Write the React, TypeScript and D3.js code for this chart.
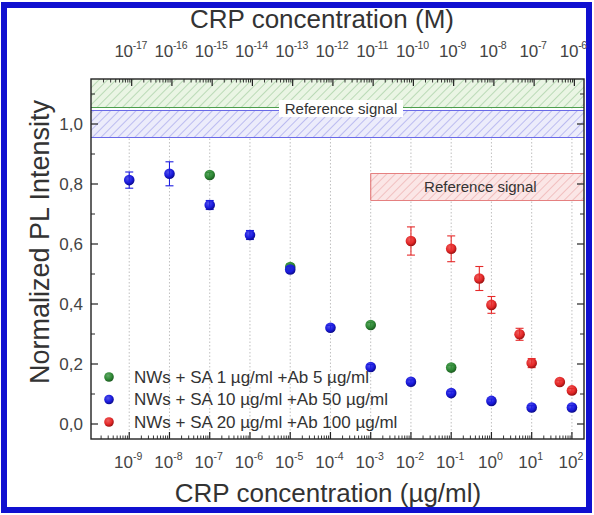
import React from "react";
import * as d3 from "d3";

const greenX = [1e-7, 1e-5, 1e-3, 1e-1];
const greenY = [0.83, 0.523, 0.33, 0.188];
const greenErr = [0.008, 0.01, 0.008, 0.008];

const blueX = [1e-9, 1e-8, 1e-7, 1e-6, 1e-5, 1e-4, 1e-3, 1e-2, 1e-1, 1, 10, 100];
const blueY = [0.813, 0.834, 0.73, 0.63, 0.515, 0.321, 0.19, 0.141, 0.103, 0.077, 0.055, 0.055];
const blueErr = [0.027, 0.04, 0.015, 0.015, 0.01, 0.008, 0.008, 0.006, 0.006, 0.006, 0.006, 0.006];

const redX = [1e-2, 1e-1, 0.5, 1, 5, 10, 50, 100];
const redY = [0.61, 0.584, 0.485, 0.397, 0.299, 0.203, 0.14, 0.112];
const redErr = [0.047, 0.043, 0.04, 0.028, 0.02, 0.015, 0.006, 0.006];

const bottomExps = [-9, -8, -7, -6, -5, -4, -3, -2, -1, 0, 1, 2];
const topExps = [-17, -16, -15, -14, -13, -12, -11, -10, -9, -8, -7, -6];
const yTicks = [0, 0.2, 0.4, 0.6, 0.8, 1.0];
const yMinor = [-0.1, 0.1, 0.3, 0.5, 0.7, 0.9, 1.1];

const greenBand = [1.055, 1.2];
const blueBand = [0.955, 1.045];
const redBand = [0.745, 0.835];
const redBandStart = 1e-3;

const legendLabels = [
  "NWs + SA 1 \u00b5g/ml +Ab 5 \u00b5g/ml",
  "NWs + SA 10 \u00b5g/ml +Ab 50 \u00b5g/ml",
  "NWs + SA 20 \u00b5g/ml +Ab 100 \u00b5g/ml",
];

const topTitle = "CRP concentration (M)";
const bottomTitle = "CRP concentration (\u00b5g/ml)";
const yTitle = "Normalized PL Intensity";
const refLabel = "Reference signal";

const MW_FACTOR = 1.15e8; // M -> ug/ml

const L = 91, R = 584, T = 79, B = 439;
const FONT = "Liberation Sans, Arial, sans-serif";

export default function App() {
  const x = d3.scaleLog().domain([Math.pow(10, -9.95), Math.pow(10, 2.3)]).range([L, R]);
  const y = d3.scaleLinear().domain([-0.05, 1.15]).range([B, T]);
  const xTop = (m: number) => x(m * MW_FACTOR);

  const [lo, hi] = x.domain();
  const minorBottom: number[] = [];
  for (let e = -10; e <= 2; e++) for (let k = 2; k <= 9; k++) {
    const v = k * Math.pow(10, e);
    if (v > lo && v < hi) minorBottom.push(v);
  }
  const minorTop: number[] = [];
  for (let e = -18; e <= -6; e++) for (let k = 2; k <= 9; k++) {
    const v = k * Math.pow(10, e);
    const px = xTop(v);
    if (px > L && px < R) minorTop.push(v);
  }

  const series = [
    { xs: greenX, ys: greenY, es: greenErr, color: "#2f8a36", dark: "#1c5a20" },
    { xs: blueX, ys: blueY, es: blueErr, color: "#1c1ce0", dark: "#0a0a8a" },
    { xs: redX, ys: redY, es: redErr, color: "#e62a2a", dark: "#9a1010" },
  ];

  const band = (x0: number, x1: number, v0: number, v1: number, fill: string, pat: string, stroke: string, key: string, sides: string) => {
    const yt = Math.max(y(v1), T), yb = y(v0);
    return (
      <g key={key}>
        <rect x={x0} y={yt} width={x1 - x0} height={yb - yt} fill={fill} />
        <rect x={x0} y={yt} width={x1 - x0} height={yb - yt} fill={`url(#${pat})`} />
        {sides.includes("t") && <line x1={x0} x2={x1} y1={yt} y2={yt} stroke={stroke} strokeWidth={1.2} />}
        {sides.includes("b") && <line x1={x0} x2={x1} y1={yb} y2={yb} stroke={stroke} strokeWidth={1.2} />}
        {sides.includes("l") && <line x1={x0} x2={x0} y1={yt} y2={yb} stroke={stroke} strokeWidth={1.2} />}
      </g>
    );
  };

  return (
    <svg width={594} height={515} style={{ position: "absolute", left: 0, top: 0, background: "#fff" }} fontFamily={FONT}>
      <defs>
        <pattern id="hg" width="6" height="6" patternUnits="userSpaceOnUse" patternTransform="rotate(45)">
          <line x1="0" y1="0" x2="0" y2="6" stroke="#8cc08a" strokeWidth="1" />
        </pattern>
        <pattern id="hb" width="6" height="6" patternUnits="userSpaceOnUse" patternTransform="rotate(45)">
          <line x1="0" y1="0" x2="0" y2="6" stroke="#8c8ce6" strokeWidth="1" />
        </pattern>
        <pattern id="hr" width="6" height="6" patternUnits="userSpaceOnUse" patternTransform="rotate(45)">
          <line x1="0" y1="0" x2="0" y2="6" stroke="#e89a9a" strokeWidth="1" />
        </pattern>
        <clipPath id="plotclip"><rect x={L} y={T} width={R - L} height={B - T} /></clipPath>
        {series.map((s, i) => (
          <radialGradient key={i} id={`ball${i}`} cx="40%" cy="35%" r="65%">
            <stop offset="0%" stopColor={s.color} stopOpacity={0.75} />
            <stop offset="60%" stopColor={s.color} />
            <stop offset="100%" stopColor={s.dark} />
          </radialGradient>
        ))}
      </defs>

      {/* outer blue frame */}
      <rect x={4} y={5} width={585} height={505} fill="none" stroke="#1010d0" strokeWidth={6} />

      {/* grid lines */}
      {bottomExps.map((e) => (
        <line key={e} x1={x(Math.pow(10, e))} x2={x(Math.pow(10, e))} y1={T} y2={B} stroke="#b0b0b0" strokeWidth={0.8} strokeDasharray="1.5,2" />
      ))}

      {/* reference bands */}
      <g clipPath="url(#plotclip)">
        {band(L, R, greenBand[0], greenBand[1], "#eaf5e4", "hg", "#4c9e4c", "g", "b")}
        {band(L, R, blueBand[0], blueBand[1], "#ececfb", "hb", "#6a6ae8", "b", "tb")}
        {band(x(redBandStart), R, redBand[0], redBand[1], "#fbe6e6", "hr", "#e58080", "r", "tbl")}
      </g>
      <rect x={279} y={y(1.05) - 9} width={124} height={17} fill="#fff" />
      <text x={341} y={y(1.05)} dy="0.35em" textAnchor="middle" fontSize={15} fill="#333">{refLabel}</text>
      <text x={(x(redBandStart) + R) / 2 + 3} y={y((redBand[0] + redBand[1]) / 2)} dy="0.35em" textAnchor="middle" fontSize={15} fill="#333">{refLabel}</text>

      {/* error bars and points */}
      {series.map((s, si) => (
        <g key={si}>
          {s.xs.map((xv, i) => {
            const cx = x(xv), e = s.es[i];
            const y0 = y(s.ys[i] - e), y1 = y(s.ys[i] + e);
            return (
              <g key={i} stroke={s.color} strokeWidth={1.1}>
                <line x1={cx} x2={cx} y1={y0} y2={y1} />
                <line x1={cx - 4} x2={cx + 4} y1={y0} y2={y0} />
                <line x1={cx - 4} x2={cx + 4} y1={y1} y2={y1} />
              </g>
            );
          })}
          {s.xs.map((xv, i) => (
            <circle key={i} cx={x(xv)} cy={y(s.ys[i])} r={5.3} fill={`url(#ball${si})`} />
          ))}
        </g>
      ))}

      {/* frame */}
      <rect x={L} y={T} width={R - L} height={B - T} fill="none" stroke="#222" strokeWidth={1.4} />

      {/* y ticks left and right */}
      {yTicks.map((v) => (
        <g key={v} stroke="#222" strokeWidth={1.2}>
          <line x1={L} x2={L + 7} y1={y(v)} y2={y(v)} />
          <line x1={R} x2={R - 7} y1={y(v)} y2={y(v)} />
        </g>
      ))}
      {yMinor.filter((v) => y(v) > T && y(v) < B).map((v) => (
        <g key={v} stroke="#222" strokeWidth={1}>
          <line x1={L} x2={L + 4} y1={y(v)} y2={y(v)} />
          <line x1={R} x2={R - 4} y1={y(v)} y2={y(v)} />
        </g>
      ))}
      {yTicks.map((v) => (
        <text key={v} x={L - 8} y={y(v)} dy="0.36em" textAnchor="end" fontSize={17} fill="#444">
          {d3.format(".1f")(v).replace(".", ",")}
        </text>
      ))}

      {/* bottom ticks */}
      {bottomExps.map((e) => (
        <line key={e} x1={x(Math.pow(10, e))} x2={x(Math.pow(10, e))} y1={B} y2={B - 7} stroke="#222" strokeWidth={1.2} />
      ))}
      {minorBottom.map((v, i) => (
        <line key={i} x1={x(v)} x2={x(v)} y1={B} y2={B - 3.5} stroke="#222" strokeWidth={0.9} />
      ))}
      {bottomExps.map((e) => (
        <text key={e} x={x(Math.pow(10, e)) - 1} y={468} textAnchor="middle" fontSize={17} fill="#444">
          10<tspan dy={-8} fontSize={10.5}>{e}</tspan>
        </text>
      ))}

      {/* top ticks */}
      {topExps.map((e) => (
        <line key={e} x1={xTop(Math.pow(10, e))} x2={xTop(Math.pow(10, e))} y1={T} y2={T + 7} stroke="#222" strokeWidth={1.2} />
      ))}
      {minorTop.map((v, i) => (
        <line key={i} x1={xTop(v)} x2={xTop(v)} y1={T} y2={T + 3.5} stroke="#222" strokeWidth={0.9} />
      ))}
      {topExps.map((e) => (
        <text key={e} x={xTop(Math.pow(10, e)) - 1} y={57} textAnchor="middle" fontSize={17} fill="#444" letterSpacing={-0.3}>
          10<tspan dy={-8} fontSize={10.5}>{e}</tspan>
        </text>
      ))}

      {/* legend */}
      {legendLabels.map((lab, i) => (
        <g key={i}>
          <circle cx={109} cy={377 + i * 22.5} r={4.8} fill={`url(#ball${i})`} />
          <text x={134} y={377 + i * 22.5} dy="0.35em" fontSize={17} fill="#333">{lab}</text>
        </g>
      ))}

      {/* titles */}
      <text x={322} y={28} textAnchor="middle" fontSize={26} fill="#333">{topTitle}</text>
      <text x={328} y={502} textAnchor="middle" fontSize={26} fill="#333">{bottomTitle}</text>
      <text transform={`translate(49, ${(T + B) / 2 - 17}) rotate(-90)`} textAnchor="middle" fontSize={27} fill="#333">{yTitle}</text>
    </svg>
  );
}
